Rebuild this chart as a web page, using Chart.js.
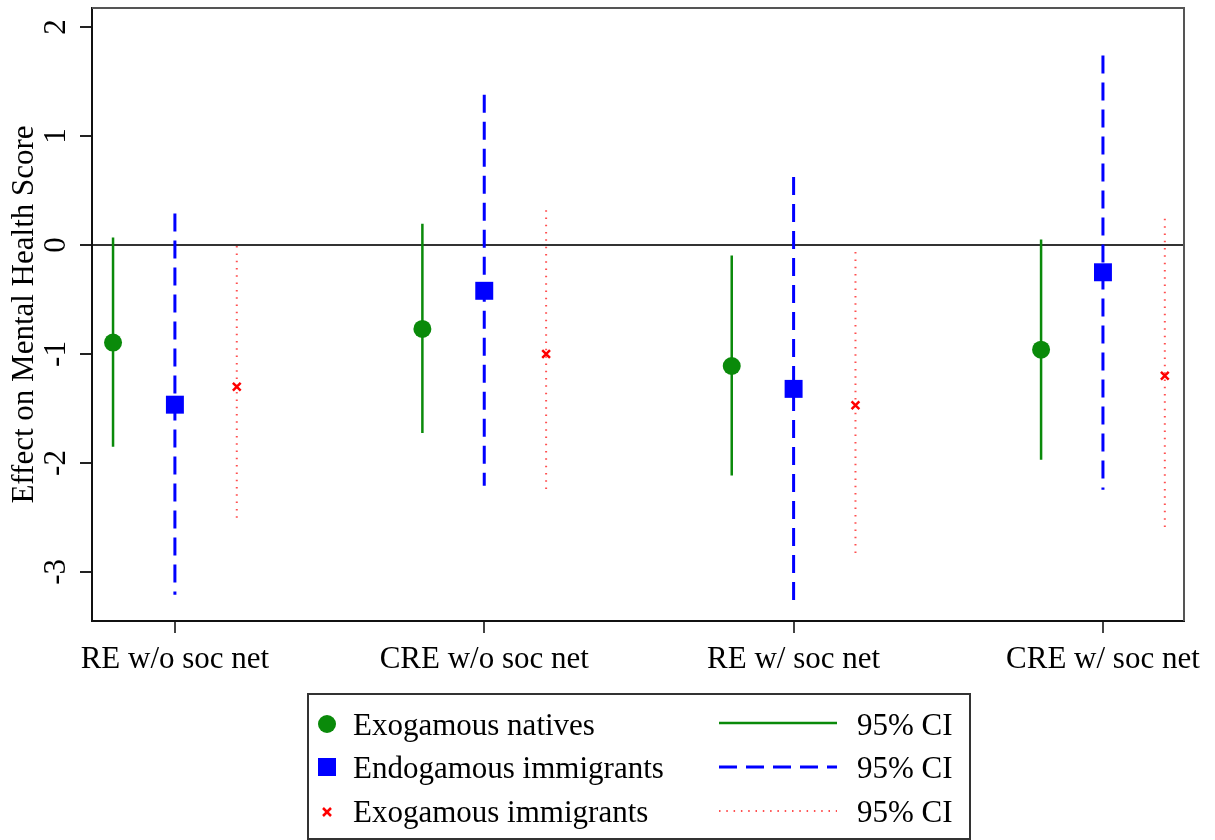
<!DOCTYPE html>
<html>
<head>
<meta charset="utf-8">
<title>Effect on Mental Health Score</title>
<script src="https://cdn.jsdelivr.net/npm/chart.js@4.4.1/dist/chart.umd.min.js"></script>
<style>
  html, body { margin: 0; padding: 0; background: #fff; }
  #wrap { position: relative; width: 1215px; height: 840px; overflow: hidden; }
  #chart { position: absolute; left: 0; top: 0; }
  #legend { position: absolute; left: 0; top: 0; }
  #legend text { font-family: "Liberation Serif", "Times New Roman", serif; font-size: 31px; fill: #000; }
</style>
</head>
<body>
<div id="wrap">
  <canvas id="chart" width="1215" height="840"></canvas>
  <svg id="legend" width="1215" height="840">
    <rect x="308" y="694" width="662" height="145" fill="none" stroke="#333" stroke-width="2"/>
    <circle cx="327" cy="724" r="9" fill="#0a8a0a"/>
    <rect x="318" y="758" width="18" height="18" fill="#0000ff"/>
    <g stroke="#ff0000" stroke-width="2.5">
      <line x1="323" y1="808" x2="331" y2="816"/>
      <line x1="331" y1="808" x2="323" y2="816"/>
    </g>
    <text x="353" y="735">Exogamous natives</text>
    <text x="353" y="778">Endogamous immigrants</text>
    <text x="353" y="822">Exogamous immigrants</text>
    <line x1="719" y1="723" x2="837" y2="723" stroke="#0a8a0a" stroke-width="2.5"/>
    <line x1="719" y1="767" x2="837" y2="767" stroke="#0000ff" stroke-width="3" stroke-dasharray="18 9"/>
    <line x1="719" y1="811" x2="837" y2="811" stroke="#ff5050" stroke-width="2" stroke-dasharray="1.5 5.8"/>
    <text x="857" y="735">95% CI</text>
    <text x="857" y="778">95% CI</text>
    <text x="857" y="822">95% CI</text>
  </svg>
</div>
<script>
// Model specifications along the x axis
const categories = ['RE w/o soc net', 'CRE w/o soc net', 'RE w/ soc net', 'CRE w/ soc net'];

// Exogamous natives: estimate and 95% CI bounds
const nativesEst = [-0.895, -0.77, -1.11, -0.96];
const nativesLo  = [-1.85, -1.725, -2.115, -1.97];
const nativesHi  = [0.07, 0.195, -0.095, 0.05];

// Endogamous immigrants
const endoEst = [-1.465, -0.42, -1.32, -0.25];
const endoLo  = [-3.21, -2.21, -3.27, -2.245];
const endoHi  = [0.29, 1.38, 0.625, 1.74];

// Exogamous immigrants
const exoEst = [-1.30, -1.00, -1.47, -1.20];
const exoLo  = [-2.54, -2.28, -2.86, -2.63];
const exoHi  = [-0.01, 0.32, -0.065, 0.24];

const yTickValues = [-3, -2, -1, 0, 1, 2];

const GREEN = '#0a8a0a';
const BLUE = '#0000ff';
const RED = '#ff0000';
const RED_CI = '#ff5050';
const SERIF = '"Liberation Serif", "Times New Roman", serif';

// horizontal position of each series inside a category group
const SHIFT = 0.2;
const xPos = (i, k) => i + 1 + k * SHIFT;

function pointSet(est, k, style) {
  return Object.assign({
    data: est.map((v, i) => ({ x: xPos(i, k), y: v })),
    showLine: false,
    order: 0
  }, style);
}

function ciSets(lo, hi, k, style) {
  return lo.map((l, i) => Object.assign({
    data: [{ x: xPos(i, k), y: hi[i] }, { x: xPos(i, k), y: l }],
    showLine: true,
    pointRadius: 0,
    pointHoverRadius: 0,
    fill: false,
    borderCapStyle: 'butt',
    order: 1
  }, style));
}

const datasets = [
  pointSet(nativesEst, -1, { pointStyle: 'circle', pointRadius: 9, backgroundColor: GREEN, borderColor: GREEN, borderWidth: 0 }),
  pointSet(endoEst, 0, { pointStyle: 'rect', pointRadius: 12.7, backgroundColor: BLUE, borderColor: BLUE, borderWidth: 0 }),
  pointSet(exoEst, 1, { pointStyle: 'crossRot', pointRadius: 5.5, backgroundColor: RED, borderColor: RED, borderWidth: 2.5 }),
  ...ciSets(nativesLo, nativesHi, -1, { borderColor: GREEN, borderWidth: 2.5 }),
  ...ciSets(endoLo, endoHi, 0, { borderColor: BLUE, borderWidth: 3, borderDash: [18, 9] }),
  ...ciSets(exoLo, exoHi, 1, { borderColor: RED_CI, borderWidth: 2, borderDash: [1.5, 5.8] })
];

// top and right edges of the plot frame
const frame = {
  id: 'frame',
  beforeDatasetsDraw(chart) {
    const { ctx, chartArea: a } = chart;
    ctx.save();
    ctx.strokeStyle = '#555';
    ctx.lineWidth = 2;
    ctx.beginPath();
    ctx.moveTo(a.left, a.top);
    ctx.lineTo(a.right, a.top);
    ctx.lineTo(a.right, a.bottom);
    ctx.stroke();
    ctx.restore();
  }
};

new Chart(document.getElementById('chart'), {
  type: 'scatter',
  data: { datasets },
  options: {
    responsive: false,
    animation: false,
    events: [],
    layout: { autoPadding: false, padding: { top: 8, right: 31, bottom: 159, left: 0 } },
    plugins: { legend: { display: false }, tooltip: { enabled: false } },
    scales: {
      x: {
        type: 'linear',
        min: 0.732,
        max: 4.262,
        afterBuildTicks: s => { s.ticks = categories.map((c, i) => ({ value: i + 1 })); },
        afterFit: s => { s.height = 60; },
        ticks: {
          callback: v => categories[v - 1],
          font: { family: SERIF, size: 31 },
          color: '#000',
          padding: 8,
          maxRotation: 0,
          autoSkip: false
        },
        grid: { drawOnChartArea: false, tickLength: 12, tickColor: '#444', lineWidth: 2 },
        border: { display: true, color: '#111', width: 2 }
      },
      y: {
        min: -3.45,
        max: 2.175,
        afterBuildTicks: s => { s.ticks = yTickValues.map(v => ({ value: v })); },
        afterFit: s => { s.width = 92; s.paddingTop = 0; s.paddingBottom = 0; },
        ticks: {
          font: { family: SERIF, size: 31 },
          color: '#000',
          minRotation: 90,
          maxRotation: 90,
          crossAlign: 'center',
          padding: 10
        },
        grid: {
          tickLength: 12,
          tickColor: '#222',
          lineWidth: 2,
          color: c => (c.tick && c.tick.value === 0 ? '#333' : 'rgba(0,0,0,0)')
        },
        border: { display: true, color: '#111', width: 2 },
        title: {
          display: true,
          text: 'Effect on Mental Health Score',
          font: { family: SERIF, size: 31 },
          color: '#000',
          padding: { top: 6, bottom: 0 }
        }
      }
    }
  },
  plugins: [frame]
});
</script>
</body>
</html>
